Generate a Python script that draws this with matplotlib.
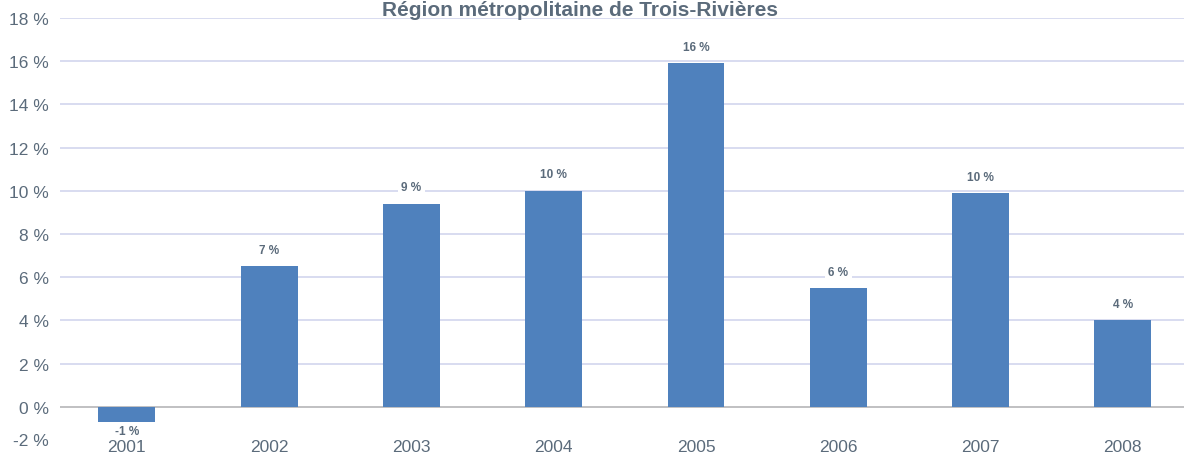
import matplotlib.pyplot as plt

plt.rcParams['font.family'] = ['Liberation Sans', 'DejaVu Sans']

# data
years = ['2001', '2002', '2003', '2004', '2005', '2006', '2007', '2008']
growth = [-0.7, 6.5, 9.4, 10.0, 15.9, 5.5, 9.9, 4.0]
labels = ['-1 %', '7 %', '9 %', '10 %', '16 %', '6 %', '10 %', '4 %']
yticks = [0, 2, 4, 6, 8, 10, 12, 14, 16, 18]

bar_col = '#4f81bd'
txt_col = '#5b6b7b'

fig = plt.figure(figsize=(11.84, 4.6), dpi=100)
ax = fig.add_axes([60/1184, 9/460, 1124/1184, 432/460])

x = range(len(years))
ax.bar(x, growth, width=0.4, color=bar_col, zorder=3)

for i, v in enumerate(growth):
    if v >= 0:
        ax.annotate(labels[i], (i, v), xytext=(0, 7.5), textcoords='offset points',
                    ha='center', va='bottom', fontsize=8.5, fontweight='bold', color=txt_col,
                    bbox=dict(boxstyle='square,pad=0.3', fc='white', ec='none'), zorder=4)
    else:
        ax.annotate(labels[i], (i, v), xytext=(0, -2), textcoords='offset points',
                    ha='center', va='top', fontsize=8.5, fontweight='bold', color=txt_col, zorder=4)

ax.set_xlim(-0.47, 7.43)
ax.set_ylim(-2, 18)
ax.set_yticks(yticks)
ax.set_yticklabels([f'{t} %' for t in yticks])
ax.tick_params(axis='y', length=0, pad=8, labelsize=12.5, labelcolor=txt_col)
ax.tick_params(axis='x', length=0, bottom=False, labelbottom=False)
ax.text(-11/1124, 0.0225, '-2 %', transform=ax.transAxes, ha='right', va='center',
        fontsize=12.5, color=txt_col)

for i, y in enumerate(years):
    ax.text(i, -1.85, y, ha='center', va='center', fontsize=12.5, color=txt_col)

ax.grid(axis='y', color='#d5d9ef', linewidth=1.3, zorder=0)
ax.axhline(0, color='#bfbfbf', linewidth=1.3, zorder=2)
for s in ax.spines.values():
    s.set_visible(False)

fig.text(580/1184, 1 - 1/460, 'Région métropolitaine de Trois-Rivières', ha='center',
         va='top', fontsize=15, fontweight='bold', color=txt_col, zorder=5)

fig.savefig('out.png', dpi=100)
